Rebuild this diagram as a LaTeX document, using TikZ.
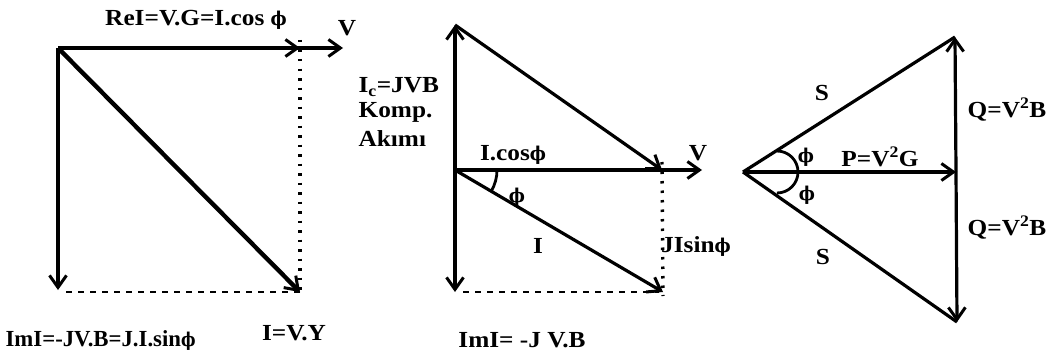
\documentclass[tikz,border=0pt]{standalone}
\usepackage{fontspec}
\setmainfont{Liberation Serif}[FakeStretch=1.1]
\newfontfamily\phifont{DejaVu Serif}[FakeStretch=0.9]
\newcommand{\fii}{{\phifont\fontsize{19}{20}\selectfont ϕ}}
\usetikzlibrary{arrows.meta}
\begin{document}
\begin{tikzpicture}[x=1pt, y=-1pt, line width=3.2pt,
  vec/.style={-{Straight Barb[length=12pt,width=17pt,line width=3pt]}},
  dotline/.style={line width=3.4pt, dash pattern=on 2.5pt off 7pt},
  dashline/.style={line width=2.6pt, dash pattern=on 6pt off 6pt},
  lbl/.style={font=\fontsize{23}{26}\selectfont\bfseries, inner sep=0pt}]
  \useasboundingbox (0,0) rectangle (1054,361);
  % admittance diagram
  \coordinate (o1) at (58,48);
  \coordinate (re1) at (300,48);
  \coordinate (v1) at (343,48);
  \coordinate (im1) at (58,290);
  \coordinate (y1) at (300,292);
  \draw[vec] (o1) -- (v1);
  \draw[vec] (o1) -- (re1);
  \draw[vec] (o1) -- (im1);
  \draw[vec, line width=4.4pt] (o1) -- (y1);
  \draw[dotline] ([yshift=8pt]re1) -- ([yshift=-4pt]y1);
  \draw[dashline] ([xshift=8pt]im1 |- y1) -- (y1);
  \node[lbl] (lre1) at (196,20) {ReI=V.G=I.cos \fii};
  \node[lbl] (lv1) at (347,28) {V};
  \node[lbl, anchor=west] (lim1) at (4,340) {\scalebox{0.9}[1]{ImI=-JV.B=J.I.sin\fii}};
  \node[lbl] (ly1) at (294,333) {I=V.Y};
  % compensation diagram
  \coordinate (o2) at (455,170);
  \coordinate (c2) at (455,25);
  \coordinate (b2) at (455,292);
  \coordinate (p2) at (662,170);
  \coordinate (v2) at (702,170);
  \coordinate (i2) at (663,292);
  \draw[vec] (o2) -- (c2);
  \draw[vec] (o2) -- (b2);
  \draw[vec] (o2) -- (v2);
  \draw[vec] (c2) -- (p2);
  \draw[vec] (o2) -- (i2);
  \draw[dotline] ([yshift=8pt]p2) -- ([yshift=-4pt]i2);
  \draw[dashline] ([xshift=8pt]b2) -- ([xshift=-4pt]i2);
  \draw[line width=2.8pt] (o2) ++(42,0) arc[start angle=0, end angle=30, radius=42];
  \node[lbl, anchor=west] (lc2) at (357,87) {I\textsubscript{c}=JVB};
  \node[lbl, anchor=west] (lk2) at (357,112) {Komp.};
  \node[lbl, anchor=west] (la2) at (357,139) {Akımı};
  \node[lbl] (lcos2) at (513,155) {I.cos\fii};
  \node[lbl] (lphi2) at (517,197) {\fii};
  \node[lbl] (li2) at (538,246) {I};
  \node[lbl] (lv2) at (698,153) {V};
  \node[lbl] (ls2) at (696,246) {JIsin\fii};
  \node[lbl] (lim2) at (522,340) {ImI= -J V.B};
  % power triangle
  \coordinate (o3) at (743,172);
  \coordinate (t3) at (955,37);
  \coordinate (m3) at (956,172);
  \coordinate (b3) at (957,322);
  \draw (o3) -- (t3);
  \draw (o3) -- (b3);
  \draw[vec] (o3) -- (m3);
  \draw[vec] (m3) -- (t3);
  \draw[vec] (m3) -- (b3);
  \draw[line width=2.8pt] (o3) ++(34,-21) arc[start angle=-90, end angle=90, radius=21];
  \node[lbl] (ls3) at (822,93) {S};
  \node[lbl] (lt3) at (823,257) {S};
  \node[lbl] (lphi3) at (806,157) {\fii};
  \node[lbl] (lpsi3) at (807,195) {\fii};
  \node[lbl] (lp3) at (880,157) {P=V\textsuperscript{2}G};
  \node[lbl] (lq3) at (1007,110) {Q=V\textsuperscript{2}B};
  \node[lbl] (lr3) at (1007,228) {Q=V\textsuperscript{2}B};
\end{tikzpicture}
\end{document}
